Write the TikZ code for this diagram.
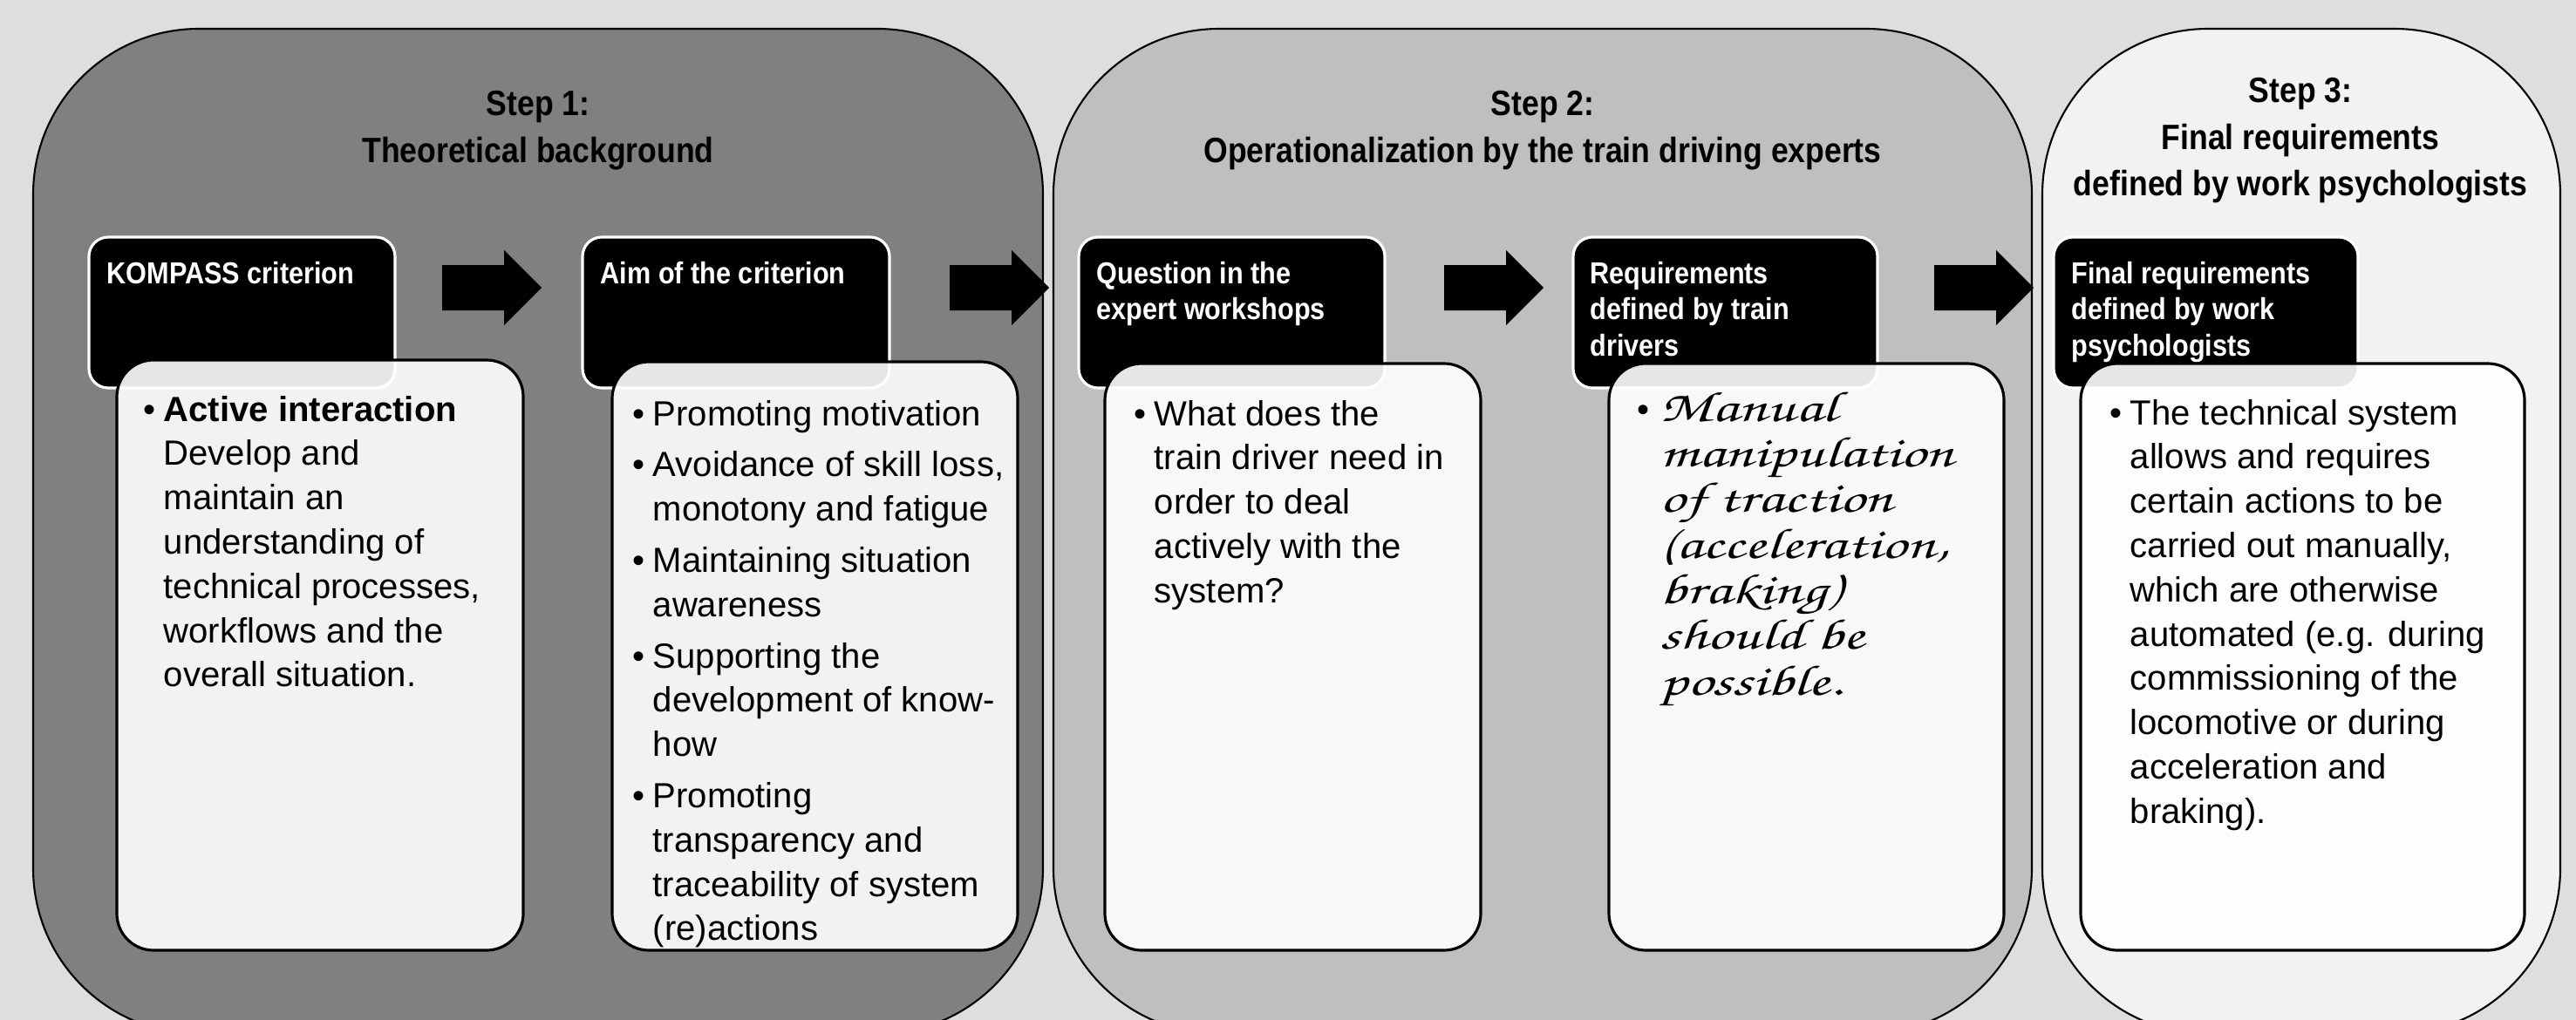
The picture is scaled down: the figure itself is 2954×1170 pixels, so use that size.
\documentclass[tikz,border=0pt]{standalone}
\usepackage{fontspec}
\setmainfont{Liberation Sans}
\newfontfamily\condfont{Liberation Sans}[FakeStretch=0.88]
\newfontfamily\handfont{TeX Gyre Chorus}[FakeStretch=1.45]
\usetikzlibrary{calc}

\definecolor{bggray}{HTML}{DEDEDE}
\definecolor{stepone}{HTML}{808080}
\definecolor{steptwo}{HTML}{BFBFBF}
\definecolor{stepthree}{HTML}{F2F2F2}

\newcommand{\bul}{\makebox[0.23cm][l]{\rmfamily\fontsize{11.4}{14.5}\selectfont\textbullet}}
\newcommand{\ind}{\hspace*{0.23cm}}
\newcommand{\leftlines}[1]{\begin{tabular}[t]{@{}l@{}}#1\end{tabular}}
\newcommand{\midlines}[1]{\begin{tabular}[t]{@{}c@{}}#1\end{tabular}}

\begin{document}
\begin{tikzpicture}[x=0.01cm, y=-0.01cm,
	panel/.style={draw=black, line width=0.6pt, rounded corners=1.9cm},
	headbox/.style={fill=black, draw=white, line width=0.9pt, rounded corners=0.22cm},
	bodybox/.style={draw=black, line width=0.9pt, fill=white, fill opacity=0.9, rounded corners=0.42cm},
	steptitle/.style={font=\condfont\bfseries\fontsize{11.5}{15.2}\selectfont, inner sep=0pt, anchor=base},
	headtext/.style={font=\condfont\bfseries\fontsize{9.9}{11.9}\selectfont, text=white, inner sep=0pt, anchor=base west},
	bodytext/.style={font=\fontsize{11.4}{14.45}\selectfont, inner sep=0pt, anchor=base west},
	handtext/.style={font=\handfont\fontsize{14}{14.9}\selectfont, inner sep=0pt, anchor=base west}]

	\useasboundingbox (0,0) rectangle (2954,1170);
	\fill [bggray] (0,0) rectangle (2954,1170);

	% the three steps
	\draw [panel, fill=stepone] (38,33) rectangle (1196,1186);
	\draw [panel, fill=steptwo] (1208,33) rectangle (2330,1186);
	\draw [panel, fill=stepthree] (2342,33) rectangle (2936,1186);

	\node [steptitle] (title1) at (617,133) {\midlines{Step 1:\\Theoretical background}};
	\node [steptitle] (title2) at (1769,133) {\midlines{Step 2:\\Operationalization by the train driving experts}};
	\node [steptitle] (title3) at (2638,118) {\midlines{Step 3:\\Final requirements\\defined by work psychologists}};

	% black heads
	\draw [headbox] (102,272) rectangle (453,445);
	\draw [headbox] (668,272) rectangle (1020,445);
	\draw [headbox] (1237,272) rectangle (1588,445);
	\draw [headbox] (1804,272) rectangle (2153,445);
	\draw [headbox] (2355,272) rectangle (2704,445);

	\node [headtext] (head1) at (122,325) {KOMPASS criterion};
	\node [headtext] (head2) at (688,325) {Aim of the criterion};
	\node [headtext] (head3) at (1257,325) {\leftlines{Question in the\\expert workshops}};
	\node [headtext] (head4) at (1823,325) {\leftlines{Requirements\\defined by train\\drivers}};
	\node [headtext] (head5) at (2375,325) {\leftlines{Final requirements\\defined by work\\psychologists}};

	% block arrows
	\foreach \x in {507,1089,1656,2218}
		\fill (\x,304) -- ++(71,0) -- ++(0,-17) -- ++(43,43) -- ++(-43,43) -- ++(0,-17) -- ++(-71,0) -- cycle;

	% white boxes
	\draw [bodybox] (134,413) rectangle (600,1090);
	\draw [bodybox] (702,415) rectangle (1167,1090);
	\draw [bodybox] (1267,417) rectangle (1698,1090);
	\draw [bodybox] (1845,417) rectangle (2298,1090);
	\draw [bodybox] (2386,417) rectangle (2895,1090);

	\node [bodytext] (body1) at (164,483) {\leftlines{\bul\textbf{Active interaction}\\
		\ind Develop and\\ \ind maintain an\\ \ind understanding of\\ \ind technical processes,\\
		\ind workflows and the\\ \ind overall situation.}};
	\node [bodytext] (body2) at (725,488) {\leftlines{\bul Promoting motivation\\[0.08cm]
		\bul Avoidance of skill loss,\\ \ind monotony and fatigue\\[0.08cm]
		\bul Maintaining situation\\ \ind awareness\\[0.08cm]
		\bul Supporting the\\ \ind development of know-\\ \ind how\\[0.08cm]
		\bul Promoting\\ \ind transparency and\\ \ind traceability of system\\ \ind (re)actions}};
	\node [bodytext] (body3) at (1300,488) {\leftlines{\bul What does the\\ \ind train driver need in\\
		\ind order to deal\\ \ind actively with the\\ \ind system?}};
	\node [handtext] (body4) at (1877,483) {\leftlines{\makebox[0.26cm][l]{\bul}Manual\\
		\hspace*{0.26cm}manipulation\\ \hspace*{0.26cm}of traction\\ \hspace*{0.26cm}(acceleration,\\
		\hspace*{0.26cm}braking)\\ \hspace*{0.26cm}should be\\ \hspace*{0.26cm}possible.}};
	\node [bodytext] (body5) at (2419,487) {\leftlines{\bul The technical system\\ \ind allows and requires\\
		\ind certain actions to be\\ \ind carried out manually,\\ \ind which are otherwise\\
		\ind automated (e.g. during\\ \ind commissioning of the\\ \ind locomotive or during\\
		\ind acceleration and\\ \ind braking).}};

\end{tikzpicture}
\end{document}
